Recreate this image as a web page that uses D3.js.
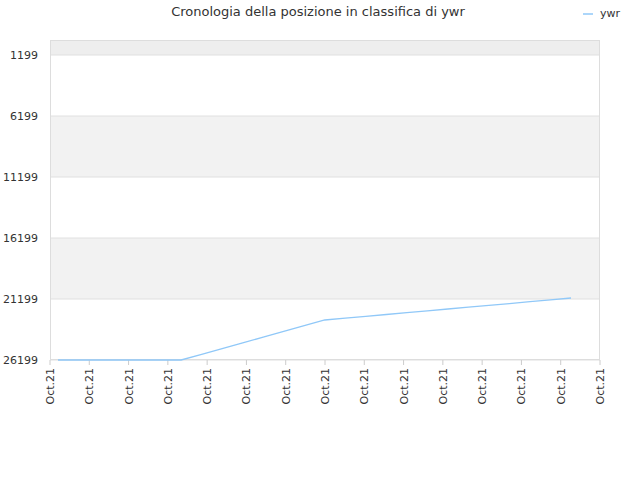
<!DOCTYPE html>
<html><head><meta charset="utf-8">
<script src="https://cdn.jsdelivr.net/npm/d3@7"></script>
<style>body{margin:0;background:#fff}text{font-family:"DejaVu Sans",sans-serif}</style>
</head><body><svg id="c" width="640" height="480"></svg>
<script>
const title = "Cronologia della posizione in classifica di ywr";
const seriesName = "ywr";
const yTicks = [1199, 6199, 11199, 16199, 21199, 26199];
const xTickLabels = Array(15).fill("Oct.21");
const ranks = [26199,26199,26199,26199,26199,26199,26199,25731,25263,24795,24327,23859,23391,22920,22770,22620,22470,22320,22170,22020,21870,21720,21570,21420,21270,21117];

const svg = d3.select("#c");
const L=50,R=600,T=40,B=360;
const y = d3.scaleLinear().domain([-31,26199]).range([T,B]);
const xt = d3.scalePoint().domain(d3.range(xTickLabels.length)).range([L,R]);
const x = d3.scaleLinear().domain([0,ranks.length-1]).range([58,571]);

// bands
const edges=[-31,...yTicks];
for(let i=0;i<edges.length-1;i++){
  svg.append("rect").attr("x",L).attr("width",R-L).attr("y",y(edges[i])).attr("height",y(edges[i+1])-y(edges[i]))
    .attr("fill", i===0?"#eeeeee":(i%2===0?"#f2f2f2":"#ffffff"));
}
yTicks.forEach(t=>svg.append("line").attr("x1",L).attr("x2",R).attr("y1",y(t)).attr("y2",y(t)).attr("stroke","#e0e0e0"));
svg.append("rect").attr("x",L+0.5).attr("y",T+0.5).attr("width",R-L-1).attr("height",B-T-1).attr("fill","none").attr("stroke","#dddddd");

yTicks.forEach(t=>svg.append("text").attr("x",L-12).attr("y",y(t)+4).attr("text-anchor","end").attr("font-size",11).attr("fill","#333").text(t));
xTickLabels.forEach((s,i)=>{
  svg.append("line").attr("x1",xt(i)).attr("x2",xt(i)).attr("y1",B).attr("y2",B+5).attr("stroke","#ccc");
  svg.append("text").attr("transform",`translate(${xt(i)+4},${B+8}) rotate(-90)`).attr("text-anchor","end").attr("font-size",11).attr("fill","#333").text(s);
});

svg.append("path").datum(ranks).attr("fill","none").attr("stroke","#90c8f8").attr("stroke-width",1.3)
  .attr("d",d3.line().x((d,i)=>x(i)).y(d=>y(d)));

svg.append("text").attr("x",318).attr("y",16).attr("text-anchor","middle").attr("font-size",13).attr("fill","#333").text(title);
svg.append("line").attr("x1",583).attr("x2",593).attr("y1",14).attr("y2",14).attr("stroke","#90c8f8").attr("stroke-width",1.5);
svg.append("text").attr("x",600).attr("y",17).attr("font-size",11).attr("fill","#333").text(seriesName);
</script></body></html>
